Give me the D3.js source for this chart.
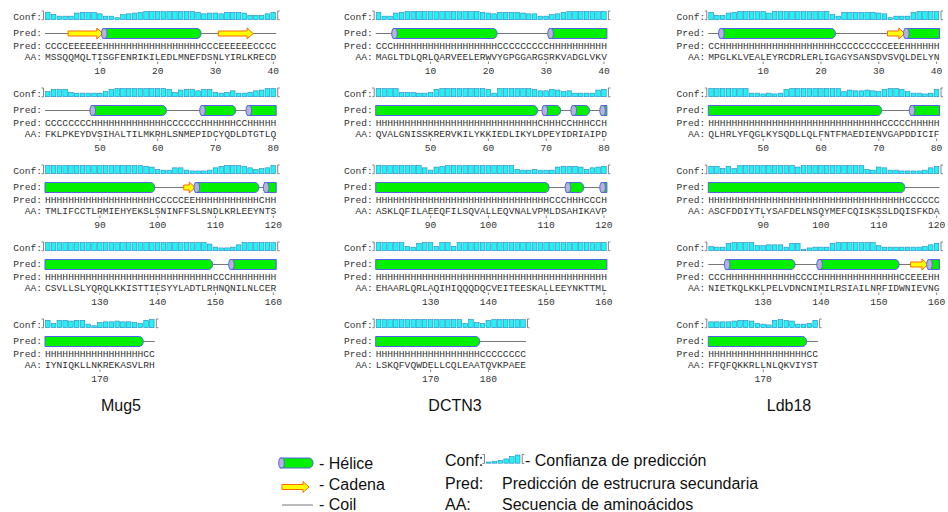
<!DOCTYPE html>
<html>
<head>
<meta charset="utf-8">
<script src="https://cdn.jsdelivr.net/npm/d3@7"></script>
<style>
  body { margin: 0; background: #fff; }
  text { fill: #333; }
</style>
</head>
<body>
<script>
// sequence blocks (40 residues each), spaces only group the letters for reading
const mug5AA = [
  'MSSQQMQLTISGFENRIKILEDLMNEFDSNLYIRLKRECD',
  'FKLPKEYDVSIHALTILMKRHLSNMEPIDCYQDLDTGTLQ',
  'TMLIFCCTLRMIEHYEKSLSNINFFSLSNDLKRLEEYNTS',
  'CSVLLSLYQRQLKKISTTIESYYLADTLRHNQNILNLCER',
  'IYNIQKLLNKREKASVLRH'
];
const mug5Pred = [
  'CCCCEEEEEE HHHHHHHHHH HHHHHHHCCC EEEEEECCCC',
  'CCCCCCCCHH HHHHHHHHHH HCCCCCCHHH HHHCCHHHHH',
  'HHHHHHHHHH HHHHHHHHHC CCCCEEHHHH HHHHHHHCHH',
  'HHHHHHHHHH HHHHHHHHHH HHHHHHHHHC CCHHHHHHHH',
  'HHHHHHHHHH HHHHHHHCC'
];
const mug5Conf = [
  '85333 78886 33156 78999 99999 98677 68887 44468',
  '58884 33333 58999 99999 98478 86884 34633 46799',
  '99999 99999 99999 99874 33663 22236 89998 64569',
  '99999 99999 99999 99999 99999 99973 22369 99999',
  '84887 88315 66766 5489'
];

const dctn3AA = [
  'MAGLTDLQRLQARVEELERWVYGPGGARGSRKVADGLVKV',
  'QVALGNISSKRERVKILYKKIEDLIKYLDPEYIDRIAIPD',
  'ASKLQFILAEEQFILSQVALLEQVNALVPMLDSAHIKAVP',
  'EHAARLQRLAQIHIQQQDQCVEITEESKALLEEYNKTTML',
  'LSKQFVQWDELLCQLEAATQVKPAEE'
];
const dctn3Pred = [
  'CCCHHHHHHH HHHHHHHHHH HCCCCCCCCC HHHHHHHHHH',
  'HHHHHHHHHH HHHHHHHHHH HHHHHHHHCH HHCCHHHCCH',
  'HHHHHHHHHH HHHHHHHHHH HHHHHHHHHH CCCHHHCCCH',
  'HHHHHHHHHH HHHHHHHHHH HHHHHHHHHH HHHHHHHHHH',
  'HHHHHHHHHH HHHHHHHHCC CCCCCC'
];
const dctn3Conf = [
  '83378 99999 99999 99987 68888 76633 56899 99999',
  '99994 44334 89999 99998 39999 99866 87563 33378',
  '99999 99963 78999 99999 99994 33433 37888 74678',
  '99999 43899 49949 99999 99999 99999 99999 99999',
  '99999 99999 99999 49548 99999 9'
];

const ldb18AA = [
  'MPGLKLVEALEYRCDRLERLIGAGYSANSDVSVQLDELYN',
  'QLHRLYFQGLKYSQDLLQLFNTFMAEDIENVGAPDDICIF',
  'ASCFDDIYTLYSAFDELNSQYMEFCQISKSSLDQISFKDA',
  'NIETKQLKKLPELVDNCNIMILRSIAILNRFIDWNIEVNG',
  'FFQFQKKRLLNLQKVIYST'
];
const ldb18Pred = [
  'CCHHHHHHHH HHHHHHHHHH HHCCCCCCCC CEEEHHHHHH',
  'HHHHHHHHHH HHHHHHHHHH HHHHHHHHHH CCCCCHHHHH',
  'HHHHHHHHHH HHHHHHHHHH HHHHHHHHHH HHHHCCCCCC',
  'CCCHHHHHHH HHHHHCCCCH HHHHHHHHHH HHHCCEEEHH',
  'HHHHHHHHHH HHHHHHHCC'
];
const ldb18Conf = [
  '84478 99999 79999 99999 95388 88887 61333 89999',
  '99999 99332 32389 99999 99957 66765 89985 33238',
  '88585 99999 99999 79999 99999 99437 63322 22368',
  '43389 99955 66638 80233 38999 99995 33333 33468',
  '66667 88743 28987 3348'
];

const proteinNames = ['Mug5', 'DCTN3', 'Ldb18'];
const legendConf = [0, 1, 2, 4, 7, 9];
const legendItems = ['- Hélice', '- Cadena', '- Coil'];
const legendKeys = ['Conf:', 'Pred:', 'AA:'];
const legendTexts = ['- Confianza de predicción', 'Predicción de estrucrura secundaria', 'Secuencia de aminoácidos'];

const clean = s => s.replace(/ /g, '');
const panels = [
  { aa: mug5AA, pred: mug5Pred.map(clean), conf: mug5Conf.map(clean), x0: 45, cx: 121 },
  { aa: dctn3AA, pred: dctn3Pred.map(clean), conf: dctn3Conf.map(clean), x0: 375.7, cx: 455 },
  { aa: ldb18AA, pred: ldb18Pred.map(clean), conf: ldb18Conf.map(clean), x0: 708.3, cx: 789 }
];

const W = 5.78;        // width of one residue
const BLOCK = 77;      // vertical step between blocks
const MONO = "'Liberation Mono', 'DejaVu Sans Mono', monospace";
const SANS = "'Liberation Sans', Arial, sans-serif";
const GREEN = '#00f000', BLUE = '#5563e6', CAP = '#b4b4d6';

const svg = d3.select('body').append('svg')
  .attr('width', 948).attr('height', 512);

function runs(s) {
  const out = [];
  let i = 0;
  while (i < s.length) {
    let j = i;
    while (j + 1 < s.length && s[j + 1] === s[i]) j++;
    out.push({ type: s[i], start: i, end: j });
    i = j + 1;
  }
  return out;
}

function helixPath(xa, xb, cy, r, roundRight) {
  const rx = Math.min(4, (xb - xa) / 2);
  if (roundRight) {
    return `M${xa},${cy - r}L${xb - rx},${cy - r}A${rx},${r} 0 0 1 ${xb - rx},${cy + r}L${xa},${cy + r}Z`;
  }
  return `M${xa},${cy - r}L${xb},${cy - r}L${xb},${cy + r}L${xa},${cy + r}Z`;
}

function arrowPath(xa, xb, cy) {
  const head = Math.min(6, (xb - xa) * 0.55);
  return `M${xa},${cy - 2.5}L${xb - head},${cy - 2.5}L${xb - head},${cy - 5.5}L${xb},${cy}` +
    `L${xb - head},${cy + 5.5}L${xb - head},${cy + 2.5}L${xa},${cy + 2.5}Z`;
}

function drawHelix(g, xa, xb, cy, cap, roundRight) {
  g.append('path').attr('d', helixPath(xa, xb, cy, 5, roundRight))
    .attr('fill', GREEN).attr('stroke', BLUE).attr('stroke-width', 1);
  if (cap) {
    g.append('ellipse').attr('cx', xa + 1.5).attr('cy', cy).attr('rx', 2.8).attr('ry', 5)
      .attr('fill', CAP).attr('stroke', BLUE).attr('stroke-width', 1);
  }
}

function drawArrow(g, xa, xb, cy) {
  g.append('path').attr('d', arrowPath(xa, xb, cy))
    .attr('fill', '#ffff00').attr('stroke', '#ff6a00').attr('stroke-width', 1)
    .attr('stroke-linejoin', 'miter');
}

function drawCoil(g, xa, xb, cy) {
  g.append('line').attr('x1', xa).attr('x2', xb).attr('y1', cy).attr('y2', cy)
    .attr('stroke', '#777').attr('stroke-width', 1);
}

function drawBars(g, values, x, y) {
  g.selectAll('rect.conf').data(values).join('rect')
    .attr('class', 'conf')
    .attr('x', (d, i) => x(i) + 0.5)
    .attr('width', W - 1.2)
    .attr('y', d => y(d))
    .attr('height', d => y(0) - y(d) + 1.2)
    .attr('fill', '#22f2f2')
    .attr('stroke', '#2b86c4')
    .attr('stroke-width', 0.6);
}

function bracket(g, x, top, bottom, dir) {
  g.append('path')
    .attr('d', `M${x + dir * 2},${top}L${x},${top}L${x},${bottom}L${x + dir * 2},${bottom}`)
    .attr('fill', 'none').attr('stroke', '#666').attr('stroke-width', 0.8);
}

function label(g, x, y, txt) {
  g.append('text').attr('x', x).attr('y', y).attr('text-anchor', 'end')
    .attr('font-family', MONO).attr('font-size', 9.6).text(txt);
}

panels.forEach((p, pi) => {
  const g = svg.append('g');
  const x = d3.scaleLinear().domain([0, 40]).range([p.x0, p.x0 + 40 * W]);

  p.aa.forEach((aaRow, k) => {
    const by = k * BLOCK;
    const predRow = p.pred[k];
    const confVals = p.conf[k].split('').map(Number);
    const n = aaRow.length;
    const bg = g.append('g');
    const yConf = d3.scaleLinear().domain([0, 9]).range([18.5 + by, 11.5 + by]);
    const cy = 33.5 + by;

    label(bg, p.x0 - 3, 20 + by, 'Conf:');
    label(bg, p.x0 - 3, 36 + by, 'Pred:');
    label(bg, p.x0 - 3, 49 + by, 'Pred:');
    label(bg, p.x0 - 3, 59.5 + by, 'AA:');

    // confidence bars
    bracket(bg, x(0) - 1.5, 11 + by, 19.7 + by, -1);
    bracket(bg, x(n) + 1.5, 11 + by, 19.7 + by, 1);
    drawBars(bg, confVals, x, yConf);

    // secondary structure cartoon
    const prevLast = k > 0 ? p.pred[k - 1].slice(-1) : null;
    const nextFirst = k < p.pred.length - 1 ? p.pred[k + 1][0] : null;
    const segs = runs(predRow);
    segs.filter(s => s.type === 'C').forEach(s => drawCoil(bg, x(s.start), x(s.end + 1), cy));
    segs.filter(s => s.type === 'E').forEach(s => drawArrow(bg, x(s.start), x(s.end + 1), cy));
    segs.filter(s => s.type === 'H').forEach(s => {
      const before = s.start > 0 ? predRow[s.start - 1] : prevLast;
      const after = s.end < n - 1 ? predRow[s.end + 1] : nextFirst;
      drawHelix(bg, x(s.start), x(s.end + 1), cy, before !== 'H', after !== 'H');
    });

    // prediction letters and sequence
    bg.selectAll('text.pl').data(predRow.split('')).join('text')
      .attr('class', 'pl')
      .attr('x', (d, i) => x(i + 0.5)).attr('y', 49 + by)
      .attr('text-anchor', 'middle').attr('font-family', MONO).attr('font-size', 9.6)
      .text(d => d);
    bg.selectAll('text.aa').data(aaRow.split('')).join('text')
      .attr('class', 'aa')
      .attr('x', (d, i) => x(i + 0.5)).attr('y', 59.5 + by)
      .attr('text-anchor', 'middle').attr('font-family', MONO).attr('font-size', 9.6)
      .text(d => d);

    // residue numbering
    const ticks = d3.range(n).filter(i => (k * 40 + i + 1) % 10 === 0);
    bg.selectAll('line.tk').data(ticks).join('line')
      .attr('class', 'tk')
      .attr('x1', i => x(i + 0.5)).attr('x2', i => x(i + 0.5))
      .attr('y1', 61.5 + by).attr('y2', 64 + by)
      .attr('stroke', '#666').attr('stroke-width', 0.8);
    bg.selectAll('text.num').data(ticks).join('text')
      .attr('class', 'num')
      .attr('x', i => x(i + 0.5)).attr('y', 73.5 + by)
      .attr('text-anchor', 'middle').attr('font-family', MONO).attr('font-size', 9.6)
      .text(i => k * 40 + i + 1);
  });

  g.append('text').attr('x', p.cx).attr('y', 411).attr('text-anchor', 'middle')
    .attr('font-family', SANS).attr('font-size', 16).style('fill', '#111')
    .text(proteinNames[pi]);
});

// legend
const leftY = [469, 489.5, 510];
const rightY = [465.5, 489, 510];
const lg = svg.append('g');
drawHelix(lg, 280, 313, 463, true, true);
drawArrow(lg, 282, 309, 487);
drawCoil(lg, 282, 313, 505);
lg.selectAll('text.li').data(legendItems).join('text')
  .attr('class', 'li')
  .attr('x', 319).attr('y', (d, i) => leftY[i])
  .attr('font-family', SANS).attr('font-size', 16).style('fill', '#111')
  .text(d => d);

lg.selectAll('text.lk').data(legendKeys).join('text')
  .attr('class', 'lk')
  .attr('x', 445).attr('y', (d, i) => rightY[i])
  .attr('font-family', SANS).attr('font-size', 16).style('fill', '#111')
  .text(d => d);
lg.selectAll('text.lt').data(legendTexts).join('text')
  .attr('class', 'lt')
  .attr('x', (d, i) => i === 0 ? 525 : 502).attr('y', (d, i) => rightY[i])
  .attr('font-family', SANS).attr('font-size', 16).style('fill', '#111')
  .text(d => d);

const lx = d3.scaleLinear().domain([0, legendConf.length]).range([486, 486 + legendConf.length * W]);
const ly = d3.scaleLinear().domain([0, 9]).range([462, 455]);
const lbars = lg.append('g');
bracket(lbars, lx(0) - 1.5, 454.5, 463.5, -1);
bracket(lbars, lx(legendConf.length) + 1.5, 454.5, 463.5, 1);
drawBars(lbars, legendConf, lx, ly);
</script>
</body>
</html>
